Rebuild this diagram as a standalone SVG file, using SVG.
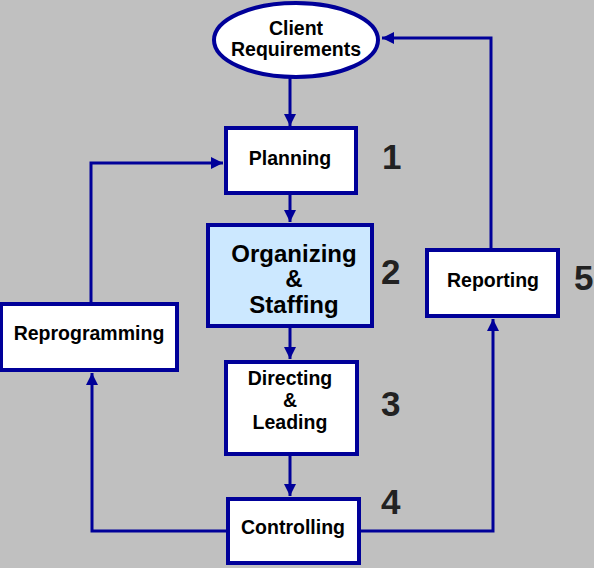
<svg xmlns="http://www.w3.org/2000/svg" width="594" height="568" viewBox="0 0 594 568">
<defs>
<marker id="ah" viewBox="0 0 10 10" refX="10" refY="5" markerWidth="4" markerHeight="4" orient="auto" markerUnits="strokeWidth">
<path d="M0,0 L10,5 L0,10 z" fill="#000099"/>
</marker>
<style>
.box{fill:#ffffff;stroke:#000099;stroke-width:4}
.t{font-family:"Liberation Sans",Arial,sans-serif;font-weight:bold;font-size:19.5px;fill:#000;text-anchor:middle}
.big{font-size:24px}
.num{font-family:"Liberation Sans",Arial,sans-serif;font-weight:bold;font-size:35px;fill:#222}
.c{fill:none;stroke:#000099;stroke-width:3;marker-end:url(#ah)}
</style>
</defs>
<rect width="594" height="568" fill="#c0c0c0"/>
<g id="connectors">
<path class="c" d="M290,78 V126"/>
<path class="c" d="M290,194 V222"/>
<path class="c" d="M290,327 V359"/>
<path class="c" d="M290,454 V496"/>
<path class="c" d="M91,302 V163 H223"/>
<path class="c" d="M227,531 H92 V373"/>
<path class="c" d="M360,531 H493 V319"/>
<path class="c" d="M491,249 V38 H382"/>
</g>
<g id="client">
<ellipse cx="296" cy="40" rx="82" ry="37" fill="#fff" stroke="#000099" stroke-width="4"/>
<text class="t" x="296" y="35">Client</text>
<text class="t" x="296" y="56">Requirements</text>
</g>
<g id="planning">
<rect class="box" x="226" y="128" width="130" height="65"/>
<text class="t" x="290" y="165">Planning</text>
</g>
<g id="organizing">
<rect class="box" x="208" y="225" width="164" height="101" style="fill:#cce8ff"/>
<text class="t big" x="294" y="262">Organizing</text>
<text class="t big" x="294" y="287">&amp;</text>
<text class="t big" x="294" y="313">Staffing</text>
</g>
<g id="directing">
<rect class="box" x="226" y="362" width="131" height="92"/>
<text class="t" x="290" y="385">Directing</text>
<text class="t" x="290" y="407">&amp;</text>
<text class="t" x="290" y="429">Leading</text>
</g>
<g id="controlling">
<rect class="box" x="228" y="499" width="131" height="64"/>
<text class="t" x="293" y="534">Controlling</text>
</g>
<g id="reprogramming">
<rect class="box" x="1" y="304" width="176" height="66"/>
<text class="t" x="89" y="340">Reprogramming</text>
</g>
<g id="reporting">
<rect class="box" x="427" y="250" width="131" height="66"/>
<text class="t" x="493" y="287">Reporting</text>
</g>
<g id="numbers">
<text class="num" x="382" y="169">1</text>
<text class="num" x="381" y="284">2</text>
<text class="num" x="381" y="416">3</text>
<text class="num" x="381" y="514">4</text>
<text class="num" x="574" y="290">5</text>
</g>
</svg>
